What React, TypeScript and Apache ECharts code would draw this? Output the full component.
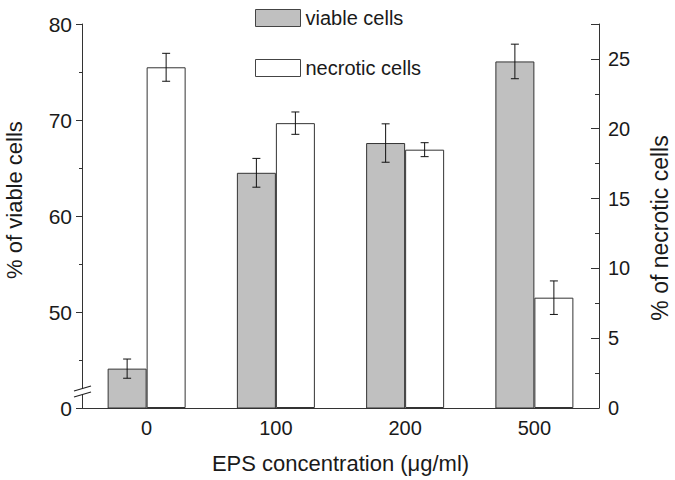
import React, { useEffect, useRef } from "react";
import * as echarts from "echarts";

const categories = ["0", "100", "200", "500"];
const viable = [44.1, 64.5, 67.6, 76.1];
const viableErr = [1.0, 1.5, 2.0, 1.8];
const necrotic = [24.4, 20.4, 18.5, 7.9];
const necroticErr = [1.0, 0.8, 0.5, 1.2];
const leftTicks = { min: 40, max: 80, interval: 10, breakLabel: "0" };
const rightTicks = { min: 0, max: 27.5, interval: 5 };

const FONT = "'Liberation Sans', Arial, sans-serif";
const TXT = "#1a1a1a";
const AX = "#333";
const BAR_W = 39;

function errorSeries(name: string, vals: number[], errs: number[], yAxisIndex: number, offset: number) {
  return {
    name,
    type: "custom",
    yAxisIndex,
    silent: true,
    z: 10,
    data: vals.map((v, i) => [i, v, errs[i]]),
    encode: { x: 0, y: 1 },
    renderItem: (params: any, api: any) => {
      const i = api.value(0);
      const v = api.value(1);
      const e = api.value(2);
      const top = api.coord([i, v + e]);
      const bot = api.coord([i, v - e]);
      const x = top[0] + offset;
      const cap = 4;
      const style = { stroke: "#111", lineWidth: 1 };
      return {
        type: "group",
        children: [
          { type: "line", shape: { x1: x, y1: top[1], x2: x, y2: bot[1] }, style },
          { type: "line", shape: { x1: x - cap, y1: top[1], x2: x + cap, y2: top[1] }, style },
          { type: "line", shape: { x1: x - cap, y1: bot[1], x2: x + cap, y2: bot[1] }, style },
        ],
      };
    },
  };
}

export default function App() {
  const ref = useRef<HTMLDivElement>(null);
  useEffect(() => {
    if (!ref.current) return;
    const chart = echarts.init(ref.current, null, { renderer: "svg" });
    chart.setOption({
      animation: false,
      backgroundColor: "#fff",
      textStyle: { fontFamily: FONT, color: TXT },
      grid: { left: 82, right: 76, top: 24, bottom: 72 },
      legend: {
        data: ["viable cells", "necrotic cells"],
        orient: "vertical",
        left: 250,
        top: 3,
        icon: "rect",
        itemWidth: 45,
        itemHeight: 17,
        itemGap: 30,
        itemStyle: { borderWidth: 1, borderColor: "#444" },
        textStyle: { fontSize: 20, color: TXT, fontFamily: FONT },
      },
      xAxis: {
        type: "category",
        data: categories,
        name: "EPS concentration (μg/ml)",
        nameLocation: "middle",
        nameGap: 44,
        nameTextStyle: { fontSize: 22, color: TXT, fontFamily: FONT },
        axisLine: { lineStyle: { color: AX, width: 1 } },
        axisTick: { alignWithLabel: true, length: 7, lineStyle: { color: AX } },
        axisLabel: { fontSize: 20, color: TXT, margin: 10, fontFamily: FONT },
        splitLine: { show: false },
      },
      yAxis: [
        {
          type: "value",
          min: leftTicks.min,
          max: leftTicks.max,
          interval: leftTicks.interval,
          axisLine: { show: true, lineStyle: { color: AX, width: 1 } },
          axisTick: { show: true, length: 6, lineStyle: { color: AX } },
          minorTick: { show: true, splitNumber: 2, length: 3, lineStyle: { color: AX } },
          axisLabel: {
            fontSize: 21,
            color: TXT,
            margin: 10,
            fontFamily: FONT,
            formatter: (v: number) => (v === leftTicks.min ? leftTicks.breakLabel : String(v)),
          },
          splitLine: { show: false },
        },
        {
          type: "value",
          position: "right",
          min: rightTicks.min,
          max: rightTicks.max,
          interval: rightTicks.interval,
          axisLine: { show: true, lineStyle: { color: AX, width: 1 } },
          axisTick: { show: true, inside: true, length: 8, lineStyle: { color: AX } },
          minorTick: { show: true, splitNumber: 2, length: 4, lineStyle: { color: AX } },
          axisLabel: {
            fontSize: 20,
            color: TXT,
            margin: 9,
            fontFamily: FONT,
            formatter: (v: number) => (v % rightTicks.interval === 0 ? String(v) : ""),
          },
          splitLine: { show: false },
        },
      ],
      series: [
        {
          name: "viable cells",
          type: "bar",
          yAxisIndex: 0,
          data: viable,
          barWidth: BAR_W,
          barGap: "0%",
          itemStyle: { color: "#c0c0c0", borderColor: "#333", borderWidth: 1 },
        },
        {
          name: "necrotic cells",
          type: "bar",
          yAxisIndex: 1,
          data: necrotic,
          barWidth: BAR_W,
          barGap: "0%",
          itemStyle: { color: "#ffffff", borderColor: "#333", borderWidth: 1 },
        },
        errorSeries("viable err", viable, viableErr, 0, -BAR_W / 2),
        errorSeries("necrotic err", necrotic, necroticErr, 1, BAR_W / 2),
      ],
      graphic: [
        {
          type: "text",
          x: 14,
          y: 200,
          rotation: Math.PI / 2,
          style: { text: "% of viable cells", fontSize: 22, fill: TXT, fontFamily: FONT, align: "center", verticalAlign: "middle" },
        },
        {
          type: "text",
          x: 660,
          y: 228,
          rotation: Math.PI / 2,
          style: { text: "% of necrotic cells", fontSize: 23, fill: TXT, fontFamily: FONT, align: "center", verticalAlign: "middle" },
        },
        {
          type: "polygon",
          z: 100,
          shape: { points: [[74, 391], [91, 386], [91, 392], [74, 397]] },
          style: { fill: "#fff" },
        },
        {
          type: "line",
          z: 101,
          shape: { x1: 74, y1: 391, x2: 91, y2: 386 },
          style: { stroke: "#222", lineWidth: 1.2 },
        },
        {
          type: "line",
          z: 101,
          shape: { x1: 74, y1: 397, x2: 91, y2: 392 },
          style: { stroke: "#222", lineWidth: 1.2 },
        },
      ],
    });
    return () => chart.dispose();
  }, []);
  return <div ref={ref} style={{ width: 675, height: 480, position: "absolute", left: 0, top: 0 }} />;
}
